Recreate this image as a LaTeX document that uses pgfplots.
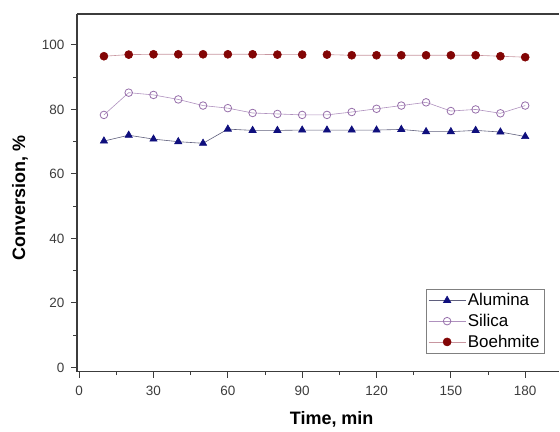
\documentclass[border=0pt]{standalone}
\usepackage{pgfplots}
\pgfplotsset{compat=1.18}
\usepackage{fontspec}
\setmainfont{Liberation Sans}
\definecolor{alu}{RGB}{15,15,125}
\definecolor{aluline}{RGB}{95,95,125}
\definecolor{sil}{RGB}{150,110,170}
\definecolor{silline}{RGB}{175,145,190}
\definecolor{boe}{RGB}{130,5,5}
\definecolor{boeline}{RGB}{200,150,160}
\definecolor{axcol}{RGB}{60,60,60}
\begin{document}
\begin{tikzpicture}
\path (-77bp,-60bp) rectangle (483bp,372bp);
\begin{axis}[at={(0bp,0bp)}, anchor=south west, scale only axis,
  width=483bp, height=358bp,
  xmin=-0.9, xmax=193.8, ymin=-1.3, ymax=109.6,
  axis lines*=left,
  axis line style={axcol, line width=1.2bp},
  every tick/.style={axcol, line width=1bp},
  tick align=outside,
  major tick length=6bp, minor tick length=3.5bp,
  xtick={0,30,...,180}, minor x tick num=1,
  ytick={0,20,...,100}, minor y tick num=1,
  /pgf/number format/assume math mode=true,
  tick label style={font=\fontsize{13.5bp}{16bp}\selectfont, text=axcol},
  xticklabel style={yshift=-5bp},
  yticklabel style={xshift=-3bp},
  xlabel={Time, min}, ylabel={Conversion, \%},
  label style={font=\fontsize{18bp}{20bp}\selectfont\bfseries},
  xlabel style={at={(axis description cs:0.528,0)}, anchor=center, yshift=-48bp},
  ylabel style={at={(axis description cs:-0.118,0.486)}, anchor=center, rotate=0},
  unbounded coords=jump,
  legend style={at={(0.969,0.05)}, anchor=south east, draw=gray, line width=0.8bp,
    font=\fontsize{17bp}{19bp}\selectfont, row sep=3bp, inner sep=2.5bp},
  legend cell align=left,
  legend image code/.code={\draw[mark repeat=2,mark phase=2] plot coordinates {(0cm,0cm) (0.65cm,0cm) (1.3cm,0cm)};},
]
\addplot[aluline, line width=0.6bp, mark=triangle*, mark size=4.2bp, mark options={solid, fill=alu, draw=alu}] coordinates {
(10,70.2) (20,72.0) (30,70.8) (40,70.0) (50,69.5) (60,73.9) (70,73.5) (80,73.5) (90,73.6)
(100,73.6) (110,73.6) (120,73.6) (130,73.8) (140,73.1) (150,73.1) (160,73.5) (170,73.0) (180,71.6)};
\addlegendentry{Alumina}
\addplot[silline, line width=0.6bp, mark=o, mark size=3.8bp, mark options={solid, fill=white, draw=sil, line width=0.8bp}] coordinates {
(10,78.3) (20,85.2) (30,84.5) (40,83.1) (50,81.2) (60,80.4) (70,78.9) (80,78.6) (90,78.3)
(100,78.3) (110,79.2) (120,80.2) (130,81.2) (140,82.2) (150,79.5) (160,80.0) (170,78.8) (180,81.2)};
\addlegendentry{Silica}
\addplot[boeline, line width=0.6bp, mark=*, mark size=4bp, mark options={solid, fill=boe, draw=boe}] coordinates {
(10,96.5) (20,97.0) (30,97.1) (40,97.1) (50,97.1) (60,97.1) (70,97.1) (80,97.0) (90,97.0)
(95,nan)
(100,97.0) (110,96.8) (120,96.8) (130,96.8) (140,96.8) (150,96.8) (160,96.8) (170,96.5) (180,96.2)};
\addlegendentry{Boehmite}
\draw[axcol, line width=1.2bp] (rel axis cs:0,1) -- (rel axis cs:1,1);
\end{axis}
\end{tikzpicture}
\end{document}
